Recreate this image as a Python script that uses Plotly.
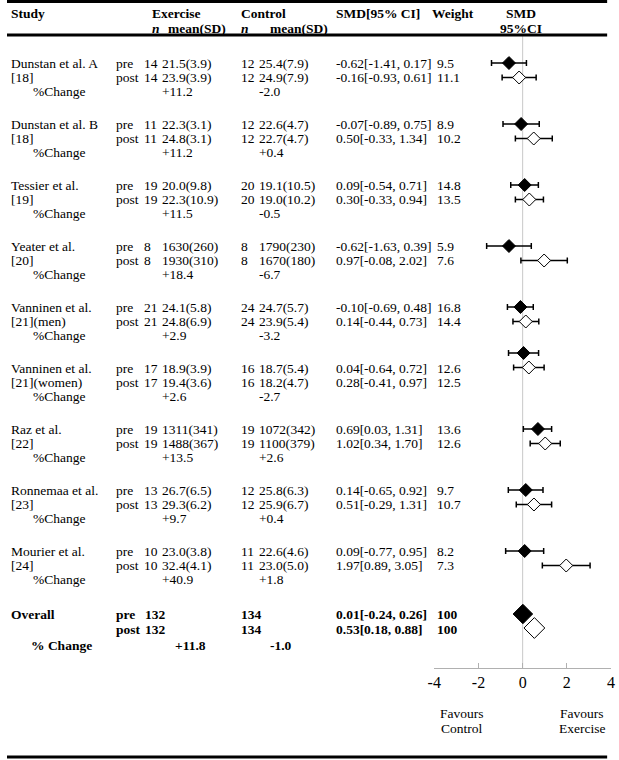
import plotly.graph_objects as go

# ---------------- data ----------------
studies = ["Dunstan et al. A", "Dunstan et al. B", "Tessier et al.", "Yeater et al.",
           "Vanninen et al.", "Vanninen et al.", "Raz et al.", "Ronnemaa et al.", "Mourier et al."]
refs = ["[18]", "[18]", "[19]", "[20]", "[21](men)", "[21](women)", "[22]", "[23]", "[24]"]
ex_n = [14, 11, 19, 8, 21, 17, 19, 13, 10]
ex_pre = ["21.5(3.9)", "22.3(3.1)", "20.0(9.8)", "1630(260)", "24.1(5.8)", "18.9(3.9)",
          "1311(341)", "26.7(6.5)", "23.0(3.8)"]
ex_post = ["23.9(3.9)", "24.8(3.1)", "22.3(10.9)", "1930(310)", "24.8(6.9)", "19.4(3.6)",
           "1488(367)", "29.3(6.2)", "32.4(4.1)"]
ex_chg = ["+11.2", "+11.2", "+11.5", "+18.4", "+2.9", "+2.6", "+13.5", "+9.7", "+40.9"]
ct_n = [12, 12, 20, 8, 24, 16, 19, 12, 11]
ct_pre = ["25.4(7.9)", "22.6(4.7)", "19.1(10.5)", "1790(230)", "24.7(5.7)", "18.7(5.4)",
          "1072(342)", "25.8(6.3)", "22.6(4.6)"]
ct_post = ["24.9(7.9)", "22.7(4.7)", "19.0(10.2)", "1670(180)", "23.9(5.4)", "18.2(4.7)",
           "1100(379)", "25.9(6.7)", "23.0(5.0)"]
ct_chg = ["-2.0", "+0.4", "-0.5", "-6.7", "-3.2", "-2.7", "+2.6", "+0.4", "+1.8"]
smd_pre = [-0.62, -0.07, 0.09, -0.62, -0.10, 0.04, 0.69, 0.14, 0.09]
lo_pre = [-1.41, -0.89, -0.54, -1.63, -0.69, -0.64, 0.03, -0.65, -0.77]
hi_pre = [0.17, 0.75, 0.71, 0.39, 0.48, 0.72, 1.31, 0.92, 0.95]
w_pre = [9.5, 8.9, 14.8, 5.9, 16.8, 12.6, 13.6, 9.7, 8.2]
smd_post = [-0.16, 0.50, 0.30, 0.97, 0.14, 0.28, 1.02, 0.51, 1.97]
lo_post = [-0.93, -0.33, -0.33, -0.08, -0.44, -0.41, 0.34, -0.29, 0.89]
hi_post = [0.61, 1.34, 0.94, 2.02, 0.73, 0.97, 1.70, 1.31, 3.05]
w_post = [11.1, 10.2, 13.5, 7.6, 14.4, 12.5, 12.6, 10.7, 7.3]

overall_n_ex = 132
overall_n_ct = 134
overall_smd = [0.01, 0.53]
overall_lo = [-0.24, 0.18]
overall_hi = [0.26, 0.88]
overall_w = [100, 100]
overall_chg = ["+11.8", "-1.0"]

tick_vals = [-4, -2, 0, 2, 4]
tick_text = ["-4", "-2", "0", "2", "4"]

# ---------------- layout helpers ----------------
W, H = 619, 760
FONT = "Liberation Serif, Times New Roman, serif"
FS = 13.5


def px(x):
    return x / W


def row_base(i):
    return 63 + 61 * i


POST_OFF, CHG_OFF = 14.5, 28.5
marker_shift = {5: -15}  # forest marks of this study sit one line higher in the original

ann = []


def txt(x, y, s, bold=False, anchor="left", italic=False, size=FS):
    if bold:
        s = "<b>" + s + "</b>"
    if italic:
        s = "<i>" + s + "</i>"
    ann.append(dict(x=px(x), y=y, xref="paper", yref="y", text=s, showarrow=False,
                    xanchor=anchor, yanchor="middle", borderpad=0,
                    font=dict(family=FONT, size=size, color="black")))


# header
txt(3, 13, "Study", bold=True)
txt(147, 13, "Exercise", bold=True)
txt(237, 13, "Control", bold=True)
txt(334, 13, "SMD[95% CI]", bold=True)
txt(432, 13, "Weight", bold=True)
txt(523, 13, "SMD", bold=True, anchor="center")
txt(523, 28, "95%CI", bold=True, anchor="center")
txt(147, 28, "n", bold=True, italic=True)
txt(163, 28, "mean(SD)", bold=True)
txt(237, 28, "n", bold=True, italic=True)
txt(267, 28, "mean(SD)", bold=True)


def ci_str(m, lo, hi):
    return f"{m:.2f}[{lo:.2f}, {hi:.2f}]"


for i in range(len(studies)):
    y0 = row_base(i)
    y1 = y0 + POST_OFF
    y2 = y0 + CHG_OFF
    txt(3, y0, studies[i])
    txt(3, y1, refs[i])
    txt(25, y2, "%Change")
    txt(110, y0, "pre")
    txt(110, y1, "post")
    txt(138, y0, str(ex_n[i]))
    txt(138, y1, str(ex_n[i]))
    txt(157, y0, ex_pre[i])
    txt(157, y1, ex_post[i])
    txt(157, y2, ex_chg[i])
    txt(237, y0, str(ct_n[i]))
    txt(237, y1, str(ct_n[i]))
    txt(256, y0, ct_pre[i])
    txt(256, y1, ct_post[i])
    txt(256, y2, ct_chg[i])
    txt(334, y0, ci_str(smd_pre[i], lo_pre[i], hi_pre[i]))
    txt(334, y1, ci_str(smd_post[i], lo_post[i], hi_post[i]))
    txt(437, y0, f"{w_pre[i]:.1f}")
    txt(437, y1, f"{w_post[i]:.1f}")

# overall
yo0 = 614
yo1 = yo0 + 15
yo2 = yo0 + 31
txt(3, yo0, "Overall", bold=True)
txt(23, yo2, "% Change", bold=True)
txt(110, yo0, "pre", bold=True)
txt(110, yo1, "post", bold=True)
txt(139, yo0, str(overall_n_ex), bold=True)
txt(139, yo1, str(overall_n_ex), bold=True)
txt(237, yo0, str(overall_n_ct), bold=True)
txt(237, yo1, str(overall_n_ct), bold=True)
txt(334, yo0, ci_str(overall_smd[0], overall_lo[0], overall_hi[0]), bold=True)
txt(334, yo1, ci_str(overall_smd[1], overall_lo[1], overall_hi[1]), bold=True)
txt(437, yo0, str(overall_w[0]), bold=True)
txt(437, yo1, str(overall_w[1]), bold=True)
txt(170, yo2, overall_chg[0], bold=True)
txt(267, yo2, overall_chg[1], bold=True)

# favours labels
txt(463, 713, "Favours", anchor="center")
txt(463, 728, "Control", anchor="center")
txt(585, 713, "Favours", anchor="center")
txt(585, 728, "Exercise", anchor="center")

# ---------------- forest traces ----------------
ys_pre = [row_base(i) + marker_shift.get(i, 0) for i in range(len(studies))]
ys_post = [row_base(i) + POST_OFF + marker_shift.get(i, 0) for i in range(len(studies))]

fig = go.Figure()
fig.add_trace(go.Scatter(
    x=smd_pre, y=ys_pre, mode="markers",
    marker=dict(symbol="diamond", size=10, color="black", line=dict(color="black", width=1)),
    error_x=dict(type="data", symmetric=False,
                 array=[h - m for h, m in zip(hi_pre, smd_pre)],
                 arrayminus=[m - l for m, l in zip(smd_pre, lo_pre)],
                 color="black", thickness=1.5, width=3),
    showlegend=False, hoverinfo="skip"))
fig.add_trace(go.Scatter(
    x=smd_post, y=ys_post, mode="markers",
    marker=dict(symbol="diamond", size=10, color="white", line=dict(color="black", width=1)),
    error_x=dict(type="data", symmetric=False,
                 array=[h - m for h, m in zip(hi_post, smd_post)],
                 arrayminus=[m - l for m, l in zip(smd_post, lo_post)],
                 color="black", thickness=1.5, width=3),
    showlegend=False, hoverinfo="skip"))
fig.add_trace(go.Scatter(
    x=[overall_smd[0]], y=[yo0], mode="markers",
    marker=dict(symbol="diamond", size=15, color="black", line=dict(color="black", width=1)),
    showlegend=False, hoverinfo="skip"))
fig.add_trace(go.Scatter(
    x=[overall_smd[1]], y=[yo1 - 1], mode="markers",
    marker=dict(symbol="diamond", size=16, color="white", line=dict(color="black", width=1)),
    showlegend=False, hoverinfo="skip"))

AXIS_Y = 668
shapes = [
    dict(type="line", xref="x", yref="y", x0=0, x1=0, y0=36, y1=AXIS_Y,
         line=dict(color="#c8c8c8", width=1), layer="below"),
    dict(type="line", xref="paper", yref="y", x0=0, x1=px(611), y0=1.5, y1=1.5,
         line=dict(color="black", width=3)),
    dict(type="line", xref="paper", yref="y", x0=0, x1=px(611), y0=35, y1=35,
         line=dict(color="black", width=3)),
    dict(type="line", xref="paper", yref="y", x0=0, x1=px(611), y0=757, y1=757,
         line=dict(color="black", width=3)),
]

fig.update_layout(
    width=W, height=H,
    margin=dict(l=0, r=0, t=0, b=0),
    paper_bgcolor="white", plot_bgcolor="white",
    showlegend=False,
    annotations=ann, shapes=shapes,
    xaxis=dict(domain=[px(435), px(615)], range=[-4, 4],
               anchor="free", position=1 - AXIS_Y / H,
               tickvals=tick_vals, ticktext=tick_text,
               ticks="inside", ticklen=5, tickcolor="#b0b0b0", tickwidth=1,
               showline=True, linecolor="#b0b0b0", linewidth=1,
               showgrid=False, zeroline=False,
               tickfont=dict(family=FONT, size=16, color="black")),
    yaxis=dict(domain=[0, 1], range=[H, 0], visible=False, showgrid=False, zeroline=False),
)

fig.write_html("out.html", config={"displayModeBar": False},
               post_script="document.body.style.margin='0';document.body.style.overflow='hidden';")
